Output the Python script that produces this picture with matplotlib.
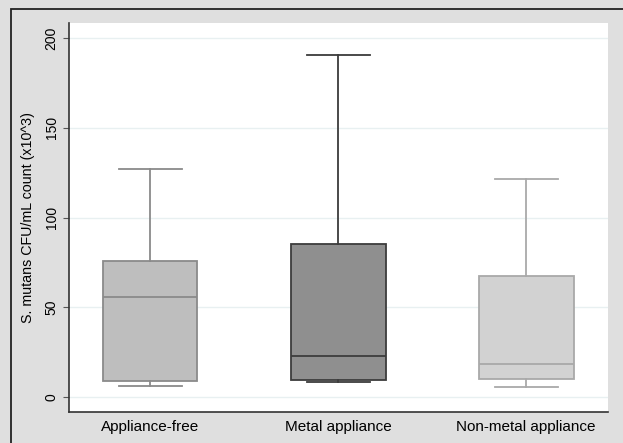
import matplotlib
matplotlib.use("Agg")
from matplotlib import pyplot as plt
from matplotlib.patches import Rectangle

plt.rcParams['font.family'] = ['Liberation Sans', 'DejaVu Sans']

groups = ["Appliance-free", "Metal appliance", "Non-metal appliance"]
whislo = [6.3, 8.5, 5.4]
q1 = [9.1, 9.5, 9.9]
med = [55.8, 23.0, 18.4]
q3 = [75.8, 85.2, 67.4]
whishi = [127.0, 190.7, 121.4]

fills = ["#bebebe", "#8f8f8f", "#d2d2d2"]
edges = ["#8a8a8a", "#3c3c3c", "#a9a9a9"]

fig = plt.figure(figsize=(6.23, 4.43), dpi=100, facecolor="#dfdfdf")
# frame drawn around the figure (only left/top visible)
fig.patches.append(Rectangle((11 / 623, -0.5), 2, 0.5 + (443 - 9) / 443,
                             transform=fig.transFigure, fill=False,
                             edgecolor="#222222", linewidth=1.3))

ax = fig.add_axes([69 / 623, 31 / 443, 539 / 623, 389 / 443])
ax.set_facecolor("white")

stats = []
for i in range(len(groups)):
    stats.append(dict(label=groups[i], whislo=whislo[i], q1=q1[i], med=med[i],
                      q3=q3[i], whishi=whishi[i], fliers=[]))

bp = ax.bxp(stats, positions=[1, 2, 3], widths=0.505, patch_artist=True,
            showfliers=False, capwidths=0.335)
for i in range(len(groups)):
    bp["boxes"][i].set(facecolor=fills[i], edgecolor=edges[i], linewidth=1.3)
    bp["medians"][i].set(color=edges[i], linewidth=1.3)
    for ln in bp["whiskers"][2 * i:2 * i + 2] + bp["caps"][2 * i:2 * i + 2]:
        ln.set(color=edges[i], linewidth=1.3)

ax.set_xlim(0.569, 3.436)
ax.set_ylim(-8.4, 208.4)
ax.set_yticks([0, 50, 100, 150, 200])
ax.set_yticklabels(["0", "50", "100", "150", "200"], rotation=90, va="center")
ax.yaxis.grid(True, color="#e8f0f1", linewidth=1)
ax.set_axisbelow(True)
ax.tick_params(axis="y", length=4, color="#555555", labelsize=10)
ax.tick_params(axis="x", length=0, labelsize=11, pad=6)

for s in ["top", "right"]:
    ax.spines[s].set_visible(False)
for s in ["left", "bottom"]:
    ax.spines[s].set_color("#333333")
    ax.spines[s].set_linewidth(1.2)

ax.set_ylabel("S. mutans CFU/mL count (x10^3)", fontsize=10.3, labelpad=7)

fig.savefig("out.png", dpi=100, facecolor=fig.get_facecolor())
